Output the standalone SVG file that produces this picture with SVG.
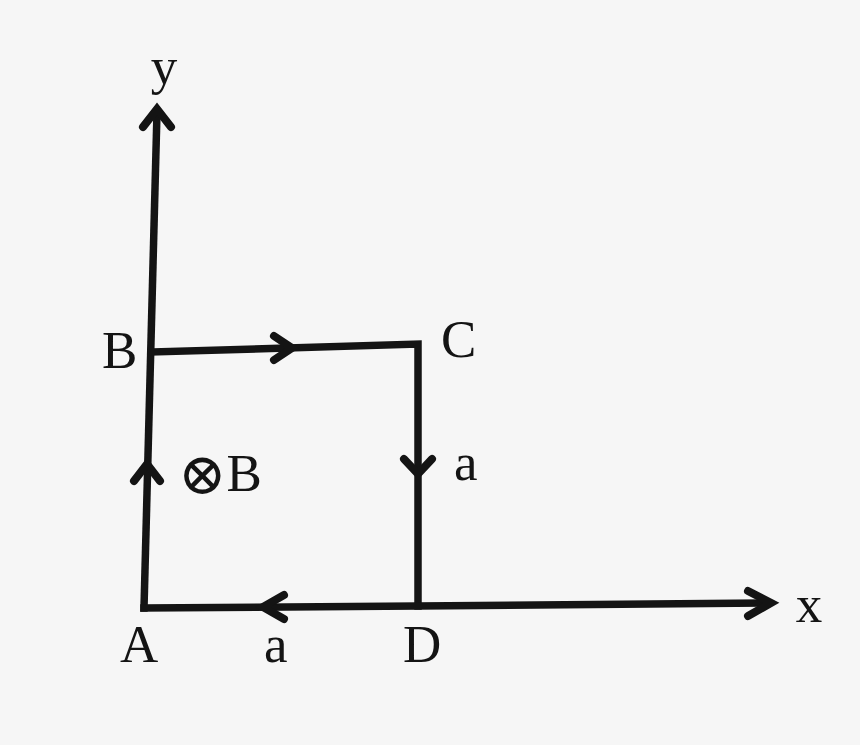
<svg xmlns="http://www.w3.org/2000/svg" width="860" height="745" viewBox="0 0 860 745">
<style>
.ln{fill:none;stroke:#141414;stroke-width:7.5;stroke-linecap:square;stroke-linejoin:miter}
.ah{fill:none;stroke:#141414;stroke-width:8;stroke-linecap:round;stroke-linejoin:miter}
.t{font-family:"Liberation Serif","Times New Roman",serif;font-size:53px;fill:#141414}
</style>
<rect width="860" height="745" fill="#f6f6f6"/>
<g id="connectors">
<path class="ln" d="M144,608 L157,112"/>
<path class="ln" d="M153,352 L418,344 L418,606"/>
<path class="ln" d="M144,608 L418,606 L768,603"/>
<path class="ah" d="M143,127 L157,109 L171,127"/>
<path class="ah" d="M274,336 L292,348 L274,360"/>
<path class="ah" d="M404,459 L418,474 L432,459"/>
<path class="ah" d="M134,481 L147,464 L160,481"/>
<path class="ah" d="M284,595 L263,607 L284,619"/>
<path class="ah" d="M748,591 L771,603 L748,616"/>
</g>
<g id="axis-y"><text class="t" x="164" y="84" text-anchor="middle" font-size="56">y</text></g>
<g id="axis-x"><text class="t" x="809" y="622" text-anchor="middle" font-size="58">x</text></g>
<g id="node-B"><text class="t" x="102" y="368">B</text></g>
<g id="node-C"><text class="t" x="441" y="357">C</text></g>
<g id="node-A"><text class="t" x="120" y="662">A</text></g>
<g id="node-D"><text class="t" x="403" y="662">D</text></g>
<g id="field"><text class="t" x="178" y="491"><tspan font-family="DejaVu Serif, serif" font-size="58" dy="3">⊗</tspan><tspan dy="-3">B</tspan></text></g>
<g id="label-a-right"><text class="t" x="454" y="480">a</text></g>
<g id="label-a-bottom"><text class="t" x="264" y="662">a</text></g>
</svg>
